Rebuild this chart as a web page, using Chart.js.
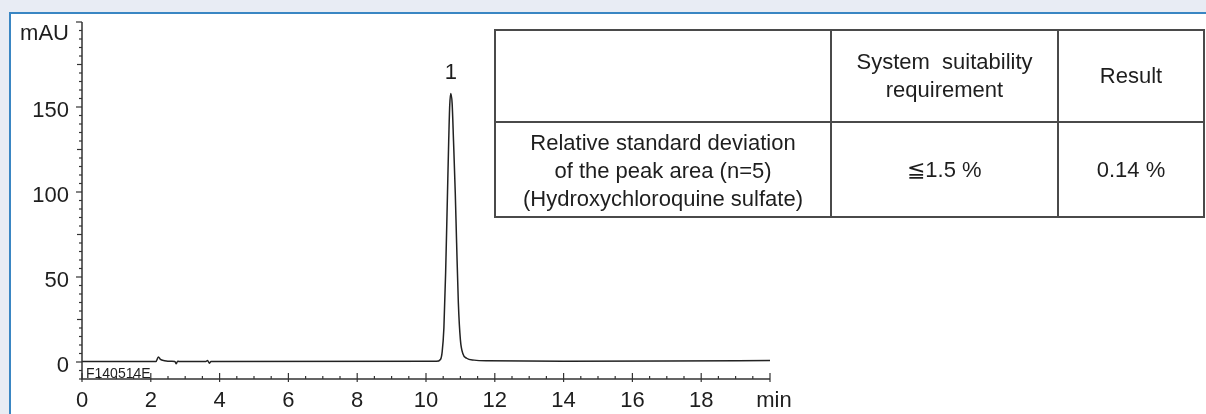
<!DOCTYPE html>
<html>
<head>
<meta charset="utf-8">
<script src="https://cdn.jsdelivr.net/npm/chart.js@4/dist/chart.umd.min.js"></script>
<style>
  html, body { margin: 0; padding: 0; width: 1206px; height: 414px; overflow: hidden; background: #e8ecf4; }
  .panel { position: absolute; left: 9px; top: 12px; right: 0; bottom: 0; background: #fff;
           border-left: 2px solid #3a86c3; border-top: 2px solid #3a86c3; }
  #chroma { position: absolute; left: 0; top: 0; }
  table.suit { position: absolute; left: 494px; top: 29px; border-collapse: collapse;
               font-family: "Liberation Sans", Arial, sans-serif; font-size: 22px; color: #1e1e1e; }
  table.suit td { border: 2px solid #4a4a4a; text-align: center; vertical-align: middle;
                  line-height: 28px; height: 90px; padding: 0; }
</style>
</head>
<body>
<div class="panel"></div>
<canvas id="chroma" width="1206" height="414"></canvas>
<table class="suit">
  <tr>
    <td style="width:334px"></td>
    <td style="width:225px">System&nbsp; suitability<br>requirement</td>
    <td style="width:144px">Result</td>
  </tr>
  <tr>
    <td style="padding-top:3px">Relative standard deviation<br>of the peak area (n=5)<br>(Hydroxychloroquine sulfate)</td>
    <td>≦1.5 %</td>
    <td>0.14 %</td>
  </tr>
</table>
<script>
// retention time (min) and detector signal (mAU)
const timeMin = [0, 2.15, 2.22, 2.28, 2.4, 2.6, 2.7, 2.74, 2.78, 2.82, 3.6, 3.65, 3.7, 3.75,
    10.3, 10.42, 10.47, 10.52, 10.57, 10.62, 10.66, 10.69, 10.72, 10.76, 10.80, 10.85, 10.89,
    10.94, 11.0, 11.07, 11.18, 11.4, 11.8, 14, 17, 20];
const signalMAU = [0.3, 0.3, 3.0, 1.5, 0.8, 0.4, 0.3, -1.0, 0.5, 0.3, 0.3, 0.9, -0.7, 0.3,
    0.4, 1.5, 6, 20, 52, 95, 130, 151, 158, 152, 130, 100, 70,
    35, 13, 5, 2.2, 1.1, 0.7, 0.5, 0.6, 0.9];

const xTickLabels = ['0', '2', '4', '6', '8', '10', '12', '14', '16', '18', 'min'];
const yTickLabels = ['0', '50', '100', '150', 'mAU'];
const peakLabels = [{ t: 10.72, v: 158, text: '1' }];
const sampleId = 'F140514E';

const points = timeMin.map((t, i) => ({ x: t, y: signalMAU[i] }));
const font22 = '22px "Liberation Sans", Arial, sans-serif';

// axes, ticks and labels drawn through the chart's own scales
const axesPlugin = {
    id: 'chromAxes',
    afterDraw(chart) {
        const ctx = chart.ctx;
        const xs = chart.scales.x, ys = chart.scales.y;
        const x0 = xs.getPixelForValue(0), x20 = xs.getPixelForValue(20);
        const yTop = ys.getPixelForValue(200), yBot = ys.getPixelForValue(-10);
        ctx.save();
        ctx.strokeStyle = '#333';
        ctx.fillStyle = '#1e1e1e';
        ctx.lineWidth = 1.5;
        ctx.beginPath();
        ctx.moveTo(x0, yTop); ctx.lineTo(x0, yBot); ctx.lineTo(x20, yBot);
        ctx.stroke();

        // y ticks
        ctx.lineWidth = 1.2;
        for (let v = -10; v <= 200; v += 5) {
            const py = ys.getPixelForValue(v);
            const len = v % 50 === 0 ? 6 : (v % 25 === 0 ? 5 : 3);
            ctx.beginPath(); ctx.moveTo(x0 - len, py); ctx.lineTo(x0, py); ctx.stroke();
        }
        // x ticks
        for (let t = 0; t <= 20; t += 0.5) {
            const px = xs.getPixelForValue(t);
            ctx.beginPath();
            if (t % 2 === 0) { ctx.moveTo(px, yBot - 6); ctx.lineTo(px, yBot + 3); }
            else { ctx.moveTo(px, yBot - 3); ctx.lineTo(px, yBot); }
            ctx.stroke();
        }

        ctx.font = font22;
        ctx.textAlign = 'right';
        ctx.textBaseline = 'middle';
        yTickLabels.forEach((lab, i) => {
            const v = i * 50;
            const py = ys.getPixelForValue(v) + (lab === 'mAU' ? 12 : 4);
            ctx.fillText(lab, x0 - 13, py);
        });
        ctx.textAlign = 'center';
        ctx.textBaseline = 'middle';
        xTickLabels.forEach((lab, i) => {
            const px = xs.getPixelForValue(i * 2) + (lab === 'min' ? 4 : 0);
            ctx.fillText(lab, px, yBot + 22);
        });

        peakLabels.forEach(p => {
            ctx.fillText(p.text, xs.getPixelForValue(p.t), ys.getPixelForValue(p.v) - 20);
        });

        ctx.font = '14px "Liberation Sans", Arial, sans-serif';
        ctx.textAlign = 'left';
        ctx.textBaseline = 'alphabetic';
        ctx.fillText(sampleId, x0 + 4, yBot - 1);
        ctx.restore();
    }
};

new Chart(document.getElementById('chroma').getContext('2d'), {
    type: 'line',
    data: {
        datasets: [{
            data: points,
            borderColor: '#222',
            borderWidth: 1.5,
            pointRadius: 0,
            fill: false,
            cubicInterpolationMode: 'monotone'
        }]
    },
    options: {
        responsive: false,
        animation: false,
        events: [],
        layout: { padding: { left: 82, right: 436, top: 22, bottom: 35 } },
        plugins: { legend: { display: false }, tooltip: { enabled: false } },
        scales: {
            x: { type: 'linear', min: 0, max: 20, display: false },
            y: { type: 'linear', min: -10, max: 200, display: false }
        }
    },
    plugins: [axesPlugin]
});
</script>
</body>
</html>
